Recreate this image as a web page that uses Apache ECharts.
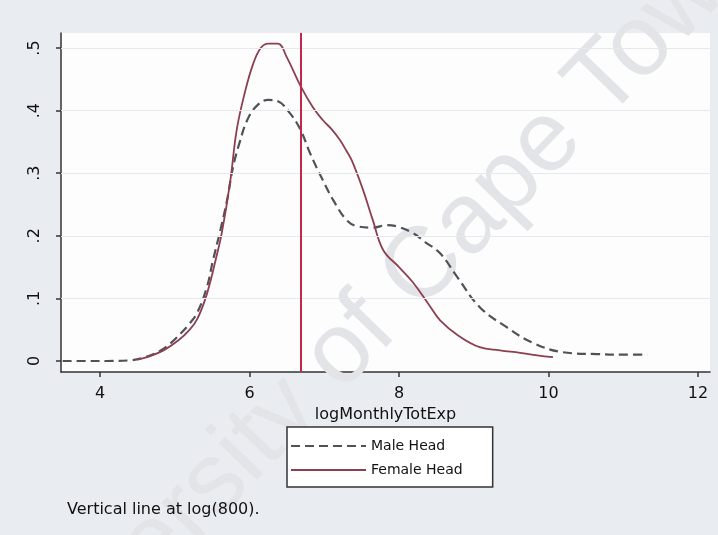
<!DOCTYPE html>
<html>
<head>
<meta charset="utf-8">
<script src="https://cdn.jsdelivr.net/npm/echarts@6/dist/echarts.min.js"></script>
<style>
  html, body { margin: 0; padding: 0; background: #e9ecf1; }
  #chart { width: 718px; height: 535px; }
</style>
</head>
<body>
<div id="chart"></div>
<script>
// Kernel density of log monthly total expenditure by sex of household head
const maleX = [3.5, 3.8, 4.1, 4.4, 4.6, 4.8, 4.95, 5.08, 5.2, 5.3, 5.43, 5.51, 5.61, 5.7, 5.78, 5.87, 5.97, 6.1, 6.25, 6.38, 6.54, 6.68, 6.81, 6.98, 7.12, 7.3, 7.45, 7.65, 7.84, 8.0, 8.19, 8.35, 8.55, 8.78, 9.08, 9.44, 9.79, 10.19, 10.65, 11.0, 11.32];
const maleY = [0.0, 0.0, 0.0, 0.001, 0.006, 0.016, 0.029, 0.044, 0.06, 0.077, 0.118, 0.16, 0.209, 0.257, 0.31, 0.35, 0.385, 0.408, 0.417, 0.415, 0.396, 0.37, 0.332, 0.289, 0.257, 0.225, 0.215, 0.213, 0.217, 0.214, 0.204, 0.19, 0.172, 0.134, 0.086, 0.054, 0.029, 0.014, 0.011, 0.010, 0.010];

const femaleX = [4.5, 4.65, 4.85, 5.05, 5.2, 5.3, 5.4, 5.47, 5.55, 5.63, 5.74, 5.83, 5.94, 6.05, 6.15, 6.25, 6.38, 6.5, 6.68, 6.85, 6.98, 7.1, 7.21, 7.3, 7.37, 7.52, 7.65, 7.79, 8.0, 8.19, 8.4, 8.55, 8.8, 9.08, 9.35, 9.62, 9.85, 10.06];
const femaleY = [0.002, 0.007, 0.017, 0.033, 0.05, 0.067, 0.096, 0.124, 0.163, 0.205, 0.285, 0.37, 0.43, 0.475, 0.5, 0.507, 0.507, 0.485, 0.44, 0.405, 0.385, 0.37, 0.353, 0.335, 0.32, 0.273, 0.225, 0.177, 0.15, 0.125, 0.09, 0.065, 0.04, 0.022, 0.017, 0.013, 0.009, 0.006];

const xTicks = [4, 6, 8, 10, 12];
const yTicks = [0, 0.1, 0.2, 0.3, 0.4, 0.5];
const yTickLabels = ['0', '.1', '.2', '.3', '.4', '.5'];
const cutoff = Math.log(800);

const seriesNames = ['Male Head', 'Female Head'];
const xTitle = 'logMonthlyTotExp';
const note = 'Vertical line at log(800).';
const stamp = 'University of Cape Town';

const toPairs = (xs, ys) => xs.map((x, i) => [x, ys[i]]);
const font = '"DejaVu Sans", Verdana, sans-serif';

const chart = echarts.init(document.getElementById('chart'), null, { renderer: 'canvas' });

chart.setOption({
  backgroundColor: '#e9ecf1',
  animation: false,
  title: {
    text: note,
    left: 62,
    top: 497,
    textStyle: { fontFamily: font, fontSize: 16, fontWeight: 'normal', color: '#111' }
  },
  grid: {
    left: 61, top: 33, right: 8, bottom: 163,
    show: true, backgroundColor: '#fdfdfd', borderWidth: 0
  },
  xAxis: {
    type: 'value',
    min: 3.4783, max: 12.1605,
    name: xTitle,
    nameLocation: 'middle',
    nameGap: 27,
    nameTextStyle: { fontFamily: font, fontSize: 16, color: '#111' },
    axisLine: { onZero: false, lineStyle: { color: '#333', width: 1.5 } },
    axisTick: { customValues: xTicks, length: 5, lineStyle: { color: '#333', width: 1.5 } },
    axisLabel: {
      customValues: xTicks, margin: 14,
      fontFamily: font, fontSize: 16, color: '#111'
    },
    splitLine: { show: false }
  },
  yAxis: {
    type: 'value',
    min: -0.0176, max: 0.524,
    axisLine: { show: true, lineStyle: { color: '#333', width: 1.5 } },
    axisTick: { show: true, customValues: yTicks, length: 5, lineStyle: { color: '#333', width: 1.5 } },
    axisLabel: {
      customValues: yTicks, rotate: 90, margin: 18,
      fontFamily: font, fontSize: 16, color: '#111',
      formatter: v => yTickLabels[yTicks.findIndex(t => Math.abs(t - v) < 1e-9)] ?? ''
    },
    splitLine: { show: false }
  },
  legend: {
    data: seriesNames,
    orient: 'vertical',
    left: 287, top: 427,
    padding: [12, 30, 10, 3],
    itemWidth: 75, itemHeight: 14, itemGap: 10,
    backgroundColor: '#ffffff',
    borderColor: '#333', borderWidth: 1.5,
    itemStyle: { opacity: 0 },
    textStyle: { fontFamily: font, fontSize: 14, color: '#111' }
  },
  graphic: [{
    type: 'text',
    x: 372, y: 322,
    rotation: 0.8,
    z: 1,
    silent: true,
    style: {
      text: stamp,
      font: '100px "Liberation Sans", Arial, sans-serif',
      fill: '#e3e4e8',
      align: 'center',
      verticalAlign: 'middle'
    }
  }],
  series: [
    {
      name: seriesNames[0],
      type: 'line',
      data: toPairs(maleX, maleY),
      symbol: 'none',
      smooth: 0.4,
      z: 3,
      lineStyle: { color: '#505257', width: 2.2, type: [9, 5] },
      itemStyle: { color: '#505257' },
      markLine: {
        silent: true,
        symbol: 'none',
        label: { show: false },
        lineStyle: { color: '#e6e8ec', width: 1, type: 'solid' },
        data: yTicks.filter(t => t > 0).map(t => ({ yAxis: t }))
      }
    },
    {
      name: seriesNames[1],
      type: 'line',
      data: toPairs(femaleX, femaleY),
      symbol: 'none',
      smooth: 0.4,
      z: 4,
      lineStyle: { color: '#8c3f4f', width: 1.8, type: 'solid' },
      itemStyle: { color: '#8c3f4f' },
      markLine: {
        silent: true,
        symbol: 'none',
        label: { show: false },
        lineStyle: { color: '#c3284a', width: 2, type: 'solid' },
        data: [{ xAxis: cutoff }]
      }
    }
  ]
});
</script>
</body>
</html>
